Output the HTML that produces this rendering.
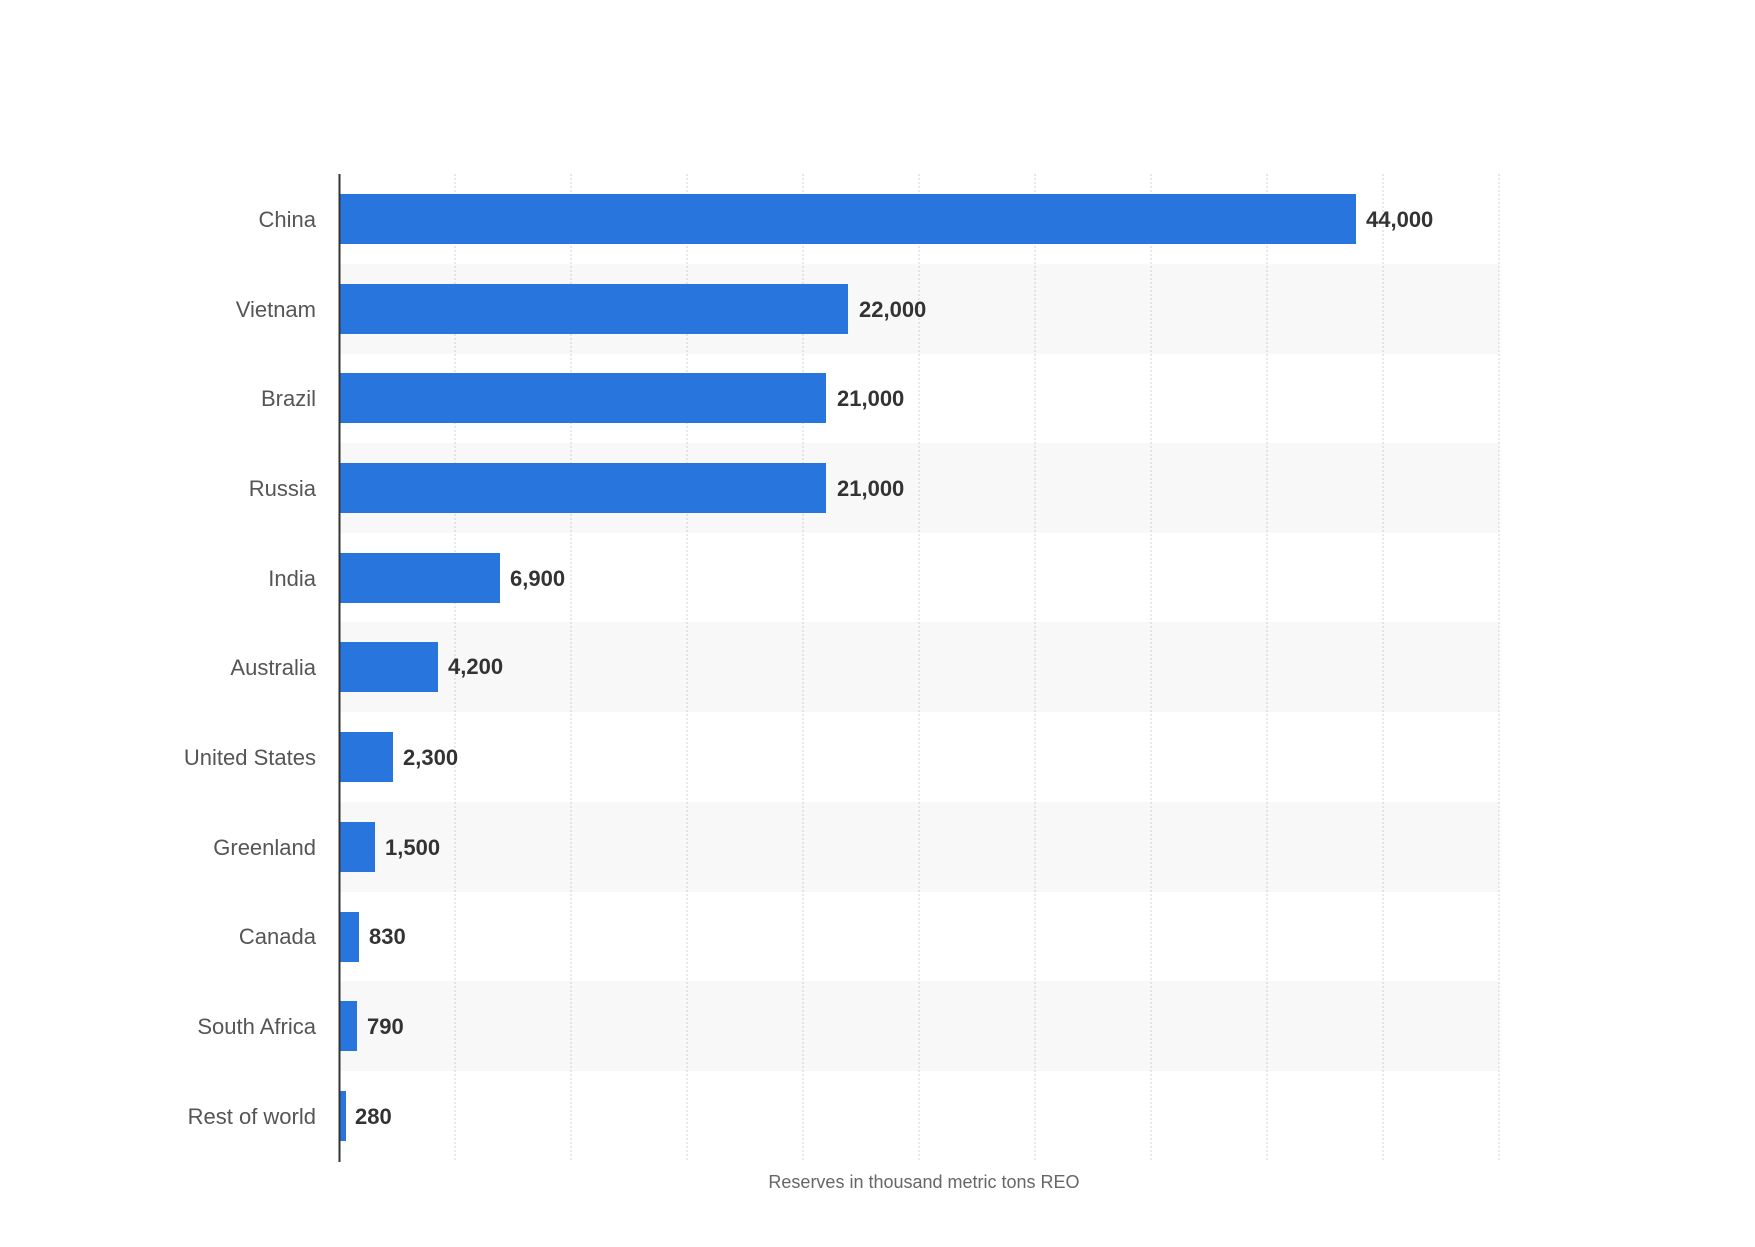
<!DOCTYPE html>
<html><head><style>
body{margin:0;background:#fff;width:1755px;height:1242px;overflow:hidden;font-family:"Liberation Sans",sans-serif;}
</style></head><body>
<svg width="1755" height="1242" xmlns="http://www.w3.org/2000/svg" font-family="Liberation Sans, sans-serif">
<g fill="#f8f8f8">
<rect x="339" y="264" width="1160" height="90"/>
<rect x="339" y="443" width="1160" height="90"/>
<rect x="339" y="622" width="1160" height="90"/>
<rect x="339" y="802" width="1160" height="90"/>
<rect x="339" y="981" width="1160" height="90"/>
</g>
<g stroke="#d0d0d0" stroke-width="1" stroke-dasharray="2,2">
<line x1="455" y1="174" x2="455" y2="1161"/><line x1="571" y1="174" x2="571" y2="1161"/>
<line x1="687" y1="174" x2="687" y2="1161"/><line x1="803" y1="174" x2="803" y2="1161"/>
<line x1="919" y1="174" x2="919" y2="1161"/><line x1="1035" y1="174" x2="1035" y2="1161"/>
<line x1="1151" y1="174" x2="1151" y2="1161"/><line x1="1267" y1="174" x2="1267" y2="1161"/>
<line x1="1383" y1="174" x2="1383" y2="1161"/><line x1="1499" y1="174" x2="1499" y2="1161"/>
</g>
<g fill="#2876dd">
<rect x="340" y="194" width="1016" height="50"/>
<rect x="340" y="284" width="508" height="50"/>
<rect x="340" y="373" width="486" height="50"/>
<rect x="340" y="463" width="486" height="50"/>
<rect x="340" y="553" width="160" height="50"/>
<rect x="340" y="642" width="98" height="50"/>
<rect x="340" y="732" width="53" height="50"/>
<rect x="340" y="822" width="35" height="50"/>
<rect x="340" y="912" width="19" height="50"/>
<rect x="340" y="1001" width="17" height="50"/>
<rect x="340" y="1091" width="6" height="50"/>
</g>
<line x1="339.5" y1="174" x2="339.5" y2="1162" stroke="#333" stroke-width="2"/>
<g font-size="22" fill="#555" text-anchor="end">
<text x="316" y="227">China</text><text x="316" y="317">Vietnam</text>
<text x="316" y="406">Brazil</text><text x="316" y="496">Russia</text>
<text x="316" y="586">India</text><text x="316" y="675">Australia</text>
<text x="316" y="765">United States</text><text x="316" y="855">Greenland</text>
<text x="316" y="944">Canada</text><text x="316" y="1034">South Africa</text>
<text x="316" y="1124">Rest of world</text>
</g>
<g font-size="22" fill="#333" font-weight="bold">
<text x="1366" y="227">44,000</text><text x="859" y="317">22,000</text>
<text x="837" y="406">21,000</text><text x="837" y="496">21,000</text>
<text x="510" y="586">6,900</text><text x="448" y="674">4,200</text>
<text x="403" y="765">2,300</text><text x="385" y="855">1,500</text>
<text x="369" y="944">830</text><text x="367" y="1034">790</text>
<text x="355" y="1124">280</text>
</g>
<text x="924" y="1188" font-size="18" fill="#666" text-anchor="middle">Reserves in thousand metric tons REO</text>
</svg>
</body></html>
